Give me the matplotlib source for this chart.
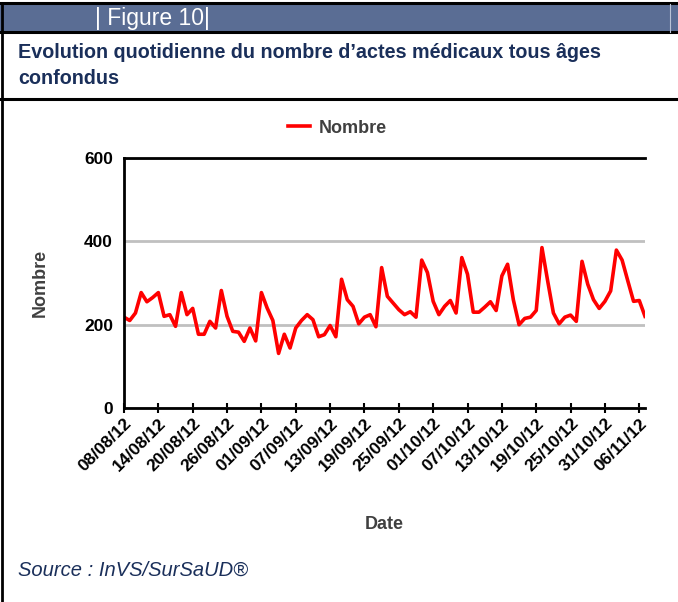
import datetime as dt
import matplotlib
matplotlib.use("Agg")
import matplotlib.pyplot as plt
import matplotlib.dates as mdates
from matplotlib.lines import Line2D
from matplotlib.patches import Rectangle

plt.rcParams["font.family"] = ["Liberation Sans", "DejaVu Sans"]

START = dt.date(2012, 8, 8)
# daily counts, 08/08/12 -> 07/11/12
nombre = [
    218, 210, 228, 277, 255, 265, 277, 220, 224, 196,
    277, 224, 239, 177, 177, 208, 192, 282, 220, 184,
    182, 160, 192, 161, 277, 240, 210, 131, 177, 144,
    192, 210, 224, 212, 171, 176, 198, 171, 309, 260,
    244, 202, 218, 224, 195, 337, 268, 252, 236, 224,
    231, 218, 355, 325, 256, 224, 244, 258, 228, 361,
    321, 230, 230, 242, 255, 234, 317, 345, 260, 200,
    215, 218, 234, 385, 305, 228, 202, 218, 223, 208,
    352, 297, 260, 239, 256, 281, 379, 355, 305, 256,
    258, 220,
]
dates = [START + dt.timedelta(days=i) for i in range(len(nombre))]
tick_dates = [START + dt.timedelta(days=6 * i) for i in range(16)]
y_ticks = [0, 200, 400, 600]

BAR = "#5a6d94"
NAVY = "#1a2f5a"
GREY = "#404040"

fig = plt.figure(figsize=(6.78, 6.02), dpi=100)

# header frame
fig.add_artist(Rectangle((0, 1 - 32 / 602), 1, 29 / 602, transform=fig.transFigure,
                         facecolor=BAR, edgecolor="none"))
for y in (3, 32, 99):
    fig.add_artist(Line2D([0, 1], [1 - y / 602] * 2, transform=fig.transFigure,
                          color="black", lw=2.2))
fig.add_artist(Line2D([2 / 678] * 2, [0, 1 - 3 / 602], transform=fig.transFigure,
                      color="black", lw=2))
fig.add_artist(Line2D([670 / 678] * 2, [1 - 32 / 602, 1 - 4 / 602], transform=fig.transFigure,
                      color="#b8c2d6", lw=0.8))

fig.text(95 / 678, 1 - 18 / 602, "| Figure 10|", color="white", fontsize=16.5,
         va="center", ha="left")
fig.text(18 / 678, 1 - 52 / 602, "Evolution quotidienne du nombre d\u2019actes médicaux tous âges",
         color=NAVY, fontsize=14.2, fontweight="bold", va="center", ha="left")
fig.text(18 / 678, 1 - 78 / 602, "confondus", color=NAVY, fontsize=14.2,
         fontweight="bold", va="center", ha="left")
fig.text(18 / 678, 1 - 570 / 602, "Source : InVS/SurSaUD®", color=NAVY, fontsize=14.5,
         style="italic", va="center", ha="left")

ax = fig.add_axes([124 / 678, 1 - 408 / 602, 521 / 678, 250 / 602])
ax.plot(dates, nombre, color="#ff0000", lw=2.6, label="Nombre")
ax.set_ylim(0, 600)
ax.set_xlim(START, START + dt.timedelta(days=91.4))
ax.set_yticks(y_ticks)
ax.set_xticks(tick_dates)
ax.xaxis.set_major_formatter(mdates.DateFormatter("%d/%m/%y"))
ax.grid(axis="y", color="#c0c0c0", lw=2)
ax.set_axisbelow(True)
for side in ("left", "top", "bottom"):
    ax.spines[side].set_linewidth(2)
    ax.spines[side].set_color("black")
ax.spines["right"].set_visible(False)
ax.tick_params(axis="y", length=0, pad=8, labelsize=12.5)
ax.tick_params(axis="x", direction="inout", length=7, width=1.5, labelsize=12.5, pad=2)
for lbl in ax.get_xticklabels():
    lbl.set_rotation(45)
    lbl.set_ha("right")
    lbl.set_rotation_mode("anchor")
for lbl in ax.get_xticklabels() + ax.get_yticklabels():
    lbl.set_fontweight("bold")

ax.set_xlabel("Date", fontsize=13, fontweight="bold", color=GREY, labelpad=30)
ax.set_ylabel("Nombre", fontsize=13, fontweight="bold", color=GREY, labelpad=25)

ax.legend(loc="lower center", bbox_to_anchor=(0.41, 1.02), frameon=False,
          handlelength=1.2, handletextpad=0.5,
          prop={"weight": "bold", "size": 13}, labelcolor=GREY)

fig.savefig("out.png", dpi=100)
